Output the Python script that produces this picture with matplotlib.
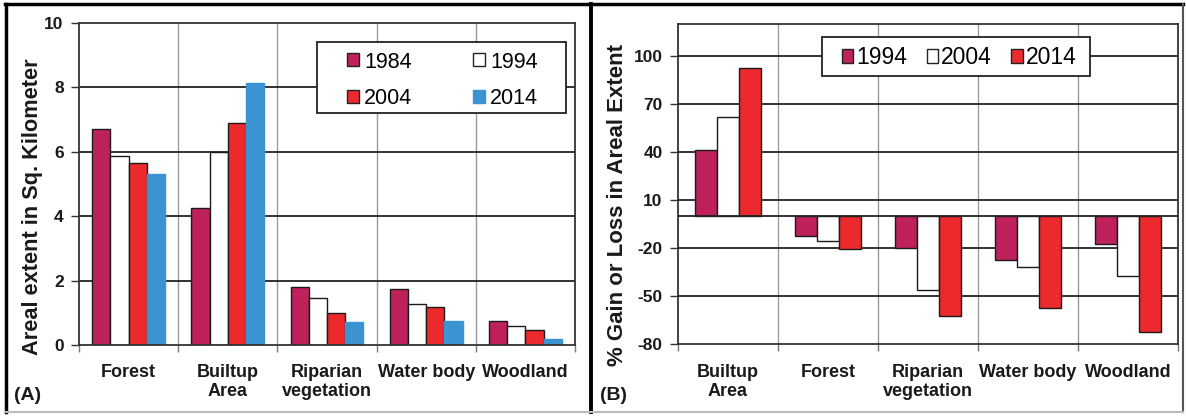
import matplotlib
matplotlib.use("Agg")
import matplotlib.pyplot as plt
import numpy as np
from matplotlib.lines import Line2D
from matplotlib.patches import Patch, Rectangle

plt.rcParams['font.family'] = ['Liberation Sans', 'DejaVu Sans']

# ---------------- data ----------------
cats_a = ["Forest", "Builtup\nArea", "Riparian\nvegetation", "Water body", "Woodland"]
years_a = ["1984", "1994", "2004", "2014"]
area_1984 = [6.70, 4.24, 1.81, 1.74, 0.73]
area_1994 = [5.86, 5.98, 1.46, 1.27, 0.60]
area_2004 = [5.64, 6.88, 0.98, 1.19, 0.47]
area_2014 = [5.32, 8.13, 0.70, 0.74, 0.19]

cats_b = ["Builtup\nArea", "Forest", "Riparian\nvegetation", "Water body", "Woodland"]
years_b = ["1994", "2004", "2014"]
chg_1994 = [41.5, -12.5, -20.0, -27.5, -17.0]
chg_2004 = [62.3, -15.6, -46.0, -31.7, -37.0]
chg_2014 = [92.8, -20.4, -62.0, -57.0, -72.0]

yticks_a = [0, 2, 4, 6, 8, 10]
yticks_b = [-80, -50, -20, 10, 40, 70, 100]

PURPLE = "#BE215C"
WHITE = "#FFFFFF"
RED = "#EC2A2E"
BLUE = "#3C93D2"
EDGE = "#1a1a1a"
TXT = "#1a1a1a"

W, H = 1186, 417
fig = plt.figure(figsize=(W / 100, H / 100), dpi=100)

def fx(px):
    return px / W

def fy(py):
    return 1 - py / H

A_L, A_R, A_T, A_B = 79, 575, 22.7, 345
B_L, B_R, B_T, B_B = 678, 1178, 24.3, 344.3
axA = fig.add_axes([fx(A_L), fy(A_B), fx(A_R) - fx(A_L), fy(A_T) - fy(A_B)])
axB = fig.add_axes([fx(B_L), fy(B_B), fx(B_R) - fx(B_L), fy(B_T) - fy(B_B)])

def style_axes(ax, ncat, yticks, ylim, hlines):
    ax.set_xlim(-0.5, ncat - 0.5)
    ax.set_ylim(*ylim)
    ax.set_yticks(yticks)
    ax.set_yticklabels([str(t) for t in yticks], fontsize=12.5, fontweight='bold', color=TXT)
    ax.tick_params(axis='y', direction='out', length=6, width=1, color='#333333', pad=5)
    ax.set_xticks(np.arange(ncat))
    ax.tick_params(axis='x', which='major', length=0, pad=14)
    ax.set_xticks(np.arange(ncat + 1) - 0.5, minor=True)
    ax.tick_params(axis='x', which='minor', direction='out', length=5, width=1, color='#777777')
    for b in np.arange(1, ncat) - 0.5:
        ax.axvline(b, color='#9a9a9a', lw=1.0, zorder=0.5)
    for h in hlines:
        ax.axhline(h, color='#222222', lw=1.3, zorder=0.6)
    for s in ['left', 'top', 'right', 'bottom']:
        ax.spines[s].set_color('#333333')
        ax.spines[s].set_linewidth(1.3)

def box(ax, AL, AR, AT, AB, x0, y0, x1, y1):
    # legend frame given in figure pixels, converted to axes fraction
    w_ax = AR - AL
    h_ax = AB - AT
    r = Rectangle(((x0 - AL) / w_ax, (AB - y1) / h_ax), (x1 - x0) / w_ax, (y1 - y0) / h_ax,
                  transform=ax.transAxes, facecolor='white', edgecolor='#222222',
                  linewidth=1.3, zorder=4, clip_on=False)
    ax.add_patch(r)

# ---------------- Panel A ----------------
xa = np.arange(len(cats_a))
bw = 0.183
series_a = [area_1984, area_1994, area_2004, area_2014]
cols_a = [PURPLE, WHITE, RED, BLUE]
edges_a = [EDGE, EDGE, EDGE, BLUE]
for i, (vals, c, e, lab) in enumerate(zip(series_a, cols_a, edges_a, years_a)):
    axA.bar(xa + (i - 1.5) * bw, vals, width=bw, color=c, edgecolor=e, linewidth=1.0,
            zorder=2, label=lab)
style_axes(axA, len(cats_a), yticks_a, (0, 10), [2, 4, 6, 8])
axA.set_xticklabels(cats_a, fontsize=13, fontweight='bold', color=TXT, linespacing=1.15)
axA.set_ylabel("Areal extent in Sq. Kilometer", fontsize=15.7, fontweight='bold', color=TXT)
axA.yaxis.set_label_coords((43 - A_L) / (A_R - A_L), 0.43)

box(axA, A_L, A_R, A_T, A_B, 316.7, 41.7, 565.7, 113.3)
hA = [Patch(facecolor=c, edgecolor=e, linewidth=1.0) for c, e in zip(cols_a, ['#222222', '#222222', '#222222', BLUE])]
order = [0, 2, 1, 3]  # row-wise fill: 1984 1994 / 2004 2014
legA = axA.legend([hA[k] for k in order], [years_a[k] for k in order], ncol=2, loc='upper left',
                  bbox_to_anchor=((347 - A_L) / (A_R - A_L), (A_B - 51.5) / (A_B - A_T)),
                  fontsize=15.5, frameon=False,
                  handlelength=0.55, handleheight=0.55, handletextpad=0.25,
                  columnspacing=2.8, borderpad=0, labelspacing=0.72, borderaxespad=0)
legA.set_zorder(5)

# ---------------- Panel B ----------------
xb = np.arange(len(cats_b))
bwb = 0.22
series_b = [chg_1994, chg_2004, chg_2014]
cols_b = [PURPLE, WHITE, RED]
for i, (vals, c, lab) in enumerate(zip(series_b, cols_b, years_b)):
    axB.bar(xb + (i - 1) * bwb, vals, width=bwb, color=c, edgecolor=EDGE, linewidth=1.0,
            zorder=2, label=lab)
style_axes(axB, len(cats_b), yticks_b, (-80, 120), [-50, -20, 10, 40, 70, 100])
axB.axhline(0, color='#222222', lw=1.3, zorder=3)
axB.set_xticklabels(cats_b, fontsize=13, fontweight='bold', color=TXT, linespacing=1.15)
axB.set_ylabel("% Gain or Loss in Areal Extent", fontsize=16, fontweight='bold', color=TXT)
axB.yaxis.set_label_coords((628 - B_L) / (B_R - B_L), 0.434)

box(axB, B_L, B_R, B_T, B_B, 821.7, 37.3, 1090, 75.7)
hB = [Patch(facecolor=c, edgecolor='#222222', linewidth=1.0) for c in cols_b]
legB = axB.legend(hB, years_b, ncol=3, loc='upper left',
                  bbox_to_anchor=((841.5 - B_L) / (B_R - B_L), (B_B - 46) / (B_B - B_T)),
                  fontsize=16.5, frameon=False,
                  handlelength=0.52, handleheight=0.52, handletextpad=0.12,
                  columnspacing=0.85, borderpad=0, borderaxespad=0)
legB.set_zorder(5)

# ---------------- panel labels ----------------
fig.text(fx(14), fy(396), "(A)", fontsize=14, fontweight='bold', color=TXT, va='center')
fig.text(fx(600), fy(396), "(B)", fontsize=14, fontweight='bold', color=TXT, va='center')

# ---------------- panel frames ----------------
def fline(x0, y0, x1, y1, color='black', lw=2.2):
    fig.add_artist(Line2D([fx(x0), fx(x1)], [fy(y0), fy(y1)], color=color, lw=lw,
                          transform=fig.transFigure))

fline(5, 4, 1183, 4, lw=2.5)
fline(6, 4, 6, 412, lw=2.5)
fline(591, 4, 591, 412, lw=2.8)
fline(1183, 4, 1183, 412, color='#555555', lw=1.5)
fline(6, 412, 1183, 412, color='#bbbbbb', lw=1.5)

fig.savefig("out.png", dpi=100)
